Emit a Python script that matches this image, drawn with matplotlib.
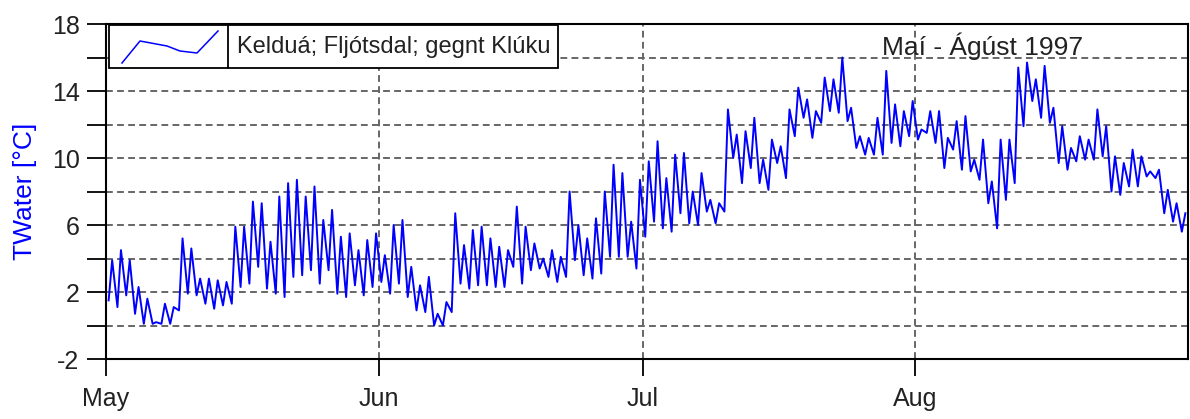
import matplotlib.pyplot as plt
import numpy as np
from matplotlib.patches import Rectangle
from matplotlib.lines import Line2D

plt.rcParams['font.family'] = ['Liberation Sans', 'DejaVu Sans']
plt.rcParams['axes.unicode_minus'] = False

# daily min / max water temperature, day 0 = 1 May 1997
daily_min = [1.5, 1.1, 1.8, 0.7, 0.1, 0.1, 0.1, 0.1, 0.9, 1.9,
             1.8, 1.3, 1.0, 1.2, 1.3, 2.3, 2.5, 3.5, 2.2, 1.9,
             1.7, 2.9, 3.0, 3.3, 2.5, 3.3, 1.9, 1.7, 2.4, 1.8,
             2.3, 2.6, 1.9, 2.5, 1.7, 0.9, 0.8, 0.0, 0.0, 0.8,
             2.5, 2.2, 2.4, 2.4, 2.3, 2.3, 3.5, 2.5, 3.3, 3.4,
             2.9, 2.6, 2.9, 3.9, 3.0, 2.8, 3.1, 4.1, 4.1, 4.1,
             3.4, 5.3, 6.2, 5.8, 5.6, 6.7, 6.1, 6.0, 6.8, 6.1,
             6.8, 10.0, 8.5, 9.4, 8.5, 8.1, 9.7, 8.8, 11.3, 12.4,
             11.2, 12.1, 12.8, 12.7, 12.2, 10.6, 10.2, 10.2, 10.2, 10.9,
             10.7, 11.3, 11.1, 11.5, 10.9, 9.4, 10.5, 9.3, 9.2, 8.7,
             7.3, 5.8, 7.5, 8.5, 11.9, 13.4, 12.4, 12.1, 9.7, 9.3,
             9.8, 9.9, 9.9, 10.1, 8.0, 7.8, 8.3, 8.3, 8.9, 8.8,
             6.7, 6.2, 5.6]
daily_max = [3.9, 4.5, 3.9, 2.3, 1.6, 0.2, 1.3, 1.1, 5.2, 4.6,
             2.8, 2.8, 2.7, 2.6, 5.9, 5.9, 7.4, 7.3, 5.0, 7.7,
             8.5, 8.7, 7.7, 8.3, 6.3, 6.9, 5.3, 5.5, 4.5, 5.1,
             5.5, 4.2, 6.0, 6.3, 3.5, 2.4, 2.9, 0.7, 1.4, 6.7,
             4.8, 5.7, 5.9, 5.2, 4.7, 4.5, 7.1, 5.9, 4.9, 4.0,
             4.5, 4.1, 8.0, 6.0, 5.2, 6.4, 8.0, 9.6, 9.1, 6.2,
             8.7, 9.8, 11.0, 8.8, 10.2, 10.3, 8.0, 9.1, 7.5, 7.3,
             12.9, 11.4, 11.6, 12.4, 9.9, 11.1, 10.7, 12.9, 14.2, 13.5,
             12.8, 14.8, 14.7, 16.0, 13.0, 11.3, 11.2, 12.4, 15.2, 13.2,
             12.8, 13.4, 11.7, 12.8, 12.8, 11.2, 12.2, 12.5, 9.9, 11.1,
             8.6, 11.1, 11.1, 15.4, 15.7, 14.7, 15.5, 13.0, 11.9, 10.6,
             11.3, 11.1, 12.9, 11.9, 10.1, 9.7, 10.5, 10.1, 9.2, 9.3,
             8.1, 7.3, 6.7]

month_starts = [0, 31, 61, 92]
month_labels = ['May', 'Jun', 'Jul', 'Aug']
series_label = 'Kelduá; Fljótsdal; gegnt Klúku'
period_text = 'Maí - Ágúst 1997'

# min in the morning, max in the afternoon
days = np.arange(len(daily_min))
t = np.column_stack([days + 0.3, days + 0.7]).ravel()
temp = np.column_stack([daily_min, daily_max]).ravel()

W, H = 1190, 419
fig = plt.figure(figsize=(W / 100, H / 100), dpi=100)
ax = fig.add_axes([106 / W, 1 - 359 / H, (1188 - 106) / W, (359 - 24) / H])

ax.plot(t, temp, color='#0000ff', lw=1.4, zorder=3)

ax.set_xlim(0, 123)
ax.set_ylim(-2, 18)
ax.set_xticks(month_starts)
ax.set_xticklabels(month_labels)
ax.set_yticks(np.arange(-2, 19, 4))
ax.set_yticks(np.arange(0, 17, 4), minor=True)

grid_kw = dict(color='#666666', lw=1.4, ls=(0, (3.5, 2.2)))
ax.grid(which='both', axis='y', **grid_kw)
ax.grid(which='major', axis='x', **grid_kw)
ax.set_axisbelow(True)

ax.tick_params(axis='y', which='both', direction='out', length=14, width=1.3,
               labelsize=18, pad=5, labelcolor='#222222')
ax.tick_params(axis='x', which='major', direction='out', length=12, width=1.3,
               labelsize=18, pad=8, labelcolor='#222222')
for s in ax.spines.values():
    s.set_linewidth(1.5)

ax.set_ylabel('TWater [°C]', color='#0000ff', fontsize=19)
ax.yaxis.set_label_coords(-0.064, 0.5)

ax.text(0.8105, 0.934, period_text, transform=ax.transAxes, fontsize=19,
        color='#222222', ha='center', va='center')


# ---- legend box drawn by hand (two cells) ----
def px(x, y):
    return x / W, 1 - y / H

x0, y0 = px(109, 68)
x1, y1 = px(558, 25)
fig.add_artist(Rectangle((x0, y0), x1 - x0, y1 - y0, transform=fig.transFigure,
                         facecolor='white', edgecolor='black', lw=1.3, zorder=5))
dx, _ = px(228, 0)
fig.add_artist(Line2D([dx, dx], [y0, y1], transform=fig.transFigure,
                      color='black', lw=1.3, zorder=6))
glyph = [(122, 63), (140, 41), (167, 46), (180, 51), (197, 53), (218, 31)]
gx = [px(a, b)[0] for a, b in glyph]
gy = [px(a, b)[1] for a, b in glyph]
fig.add_artist(Line2D(gx, gy, transform=fig.transFigure, color='#0000ff',
                      lw=1.1, zorder=6))
tx, ty = px(237, 47)
fig.text(tx, ty, series_label, fontsize=17, color='#222222', va='center',
         ha='left', zorder=7)

fig.savefig('out.png', dpi=100)
